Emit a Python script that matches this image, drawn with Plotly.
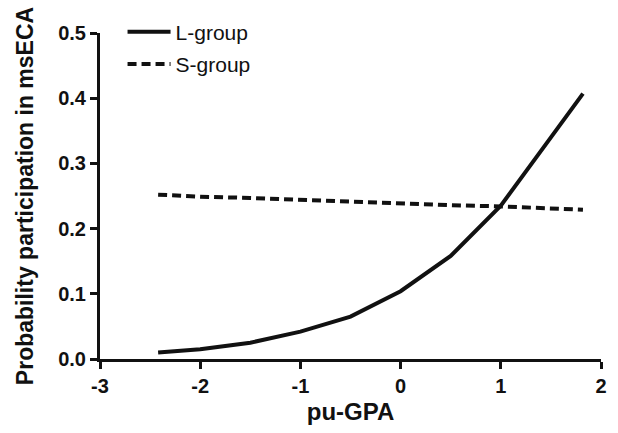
import plotly.graph_objects as go

pu_gpa = [-2.42, -2.0, -1.5, -1.0, -0.5, 0.0, 0.5, 1.0, 1.5, 1.82]
l_group = [0.010, 0.015, 0.025, 0.042, 0.065, 0.104, 0.158, 0.235, 0.340, 0.407]
s_group = [0.252, 0.249, 0.247, 0.244, 0.241, 0.239, 0.236, 0.234, 0.231, 0.229]

x_ticks = [-3, -2, -1, 0, 1, 2]
x_tick_labels = ["-3", "-2", "-1", "0", "1", "2"]
y_ticks = [0.0, 0.1, 0.2, 0.3, 0.4, 0.5]
y_tick_labels = ["0.0", "0.1", "0.2", "0.3", "0.4", "0.5"]

FONT = "Liberation Sans, Arial, sans-serif"

fig = go.Figure()
fig.add_trace(go.Scatter(x=pu_gpa, y=l_group, mode="lines", name="L-group",
                         line=dict(color="#111111", width=4), legendgroup="a"))
fig.add_trace(go.Scatter(x=pu_gpa, y=s_group, mode="lines", name="S-group",
                         line=dict(color="#111111", width=4, dash="9px,5px"), legendgroup="b"))

fig.update_layout(
    width=618, height=433,
    margin=dict(l=100, r=11, t=29, b=68),
    paper_bgcolor="white", plot_bgcolor="white",
    font=dict(family=FONT, color="#111111"),
    showlegend=True,
    legend=dict(x=0.045, y=1.066, xanchor="left", yanchor="top",
                font=dict(family=FONT, size=21, color="#111111"),
                bgcolor="rgba(0,0,0,0)", tracegroupgap=2, itemwidth=43),
    xaxis=dict(range=[-3, 2], tickvals=x_ticks, ticktext=x_tick_labels, ticks="outside",
               ticklen=7, tickwidth=3,
               showline=True, linewidth=3, linecolor="#111111", tickcolor="#111111",
               showgrid=False, zeroline=False,
               tickfont=dict(family=FONT, size=20, color="#111111", weight="bold"),
               title=dict(text="<b>pu-GPA</b>", font=dict(family=FONT, size=24, color="#111111"),
                          standoff=8)),
    yaxis=dict(range=[0, 0.5], tickvals=y_ticks, ticktext=y_tick_labels, ticks="outside",
               ticklen=7, tickwidth=3,
               showline=True, linewidth=3, linecolor="#111111", tickcolor="#111111",
               showgrid=False, zeroline=False,
               tickfont=dict(family=FONT, size=20, color="#111111", weight="bold"),
               title=dict(text="<b>Probability participation in msECA</b>",
                          font=dict(family=FONT, size=23, color="#111111"), standoff=19)),
)

fig.write_html(
    "out.html",
    config={"displayModeBar": False},
    post_script=(
        "document.documentElement.style.cssText='margin:0;padding:0;overflow:hidden;height:433px';"
        "document.body.style.cssText='margin:0;padding:0;overflow:hidden;height:433px';"
    ),
)
